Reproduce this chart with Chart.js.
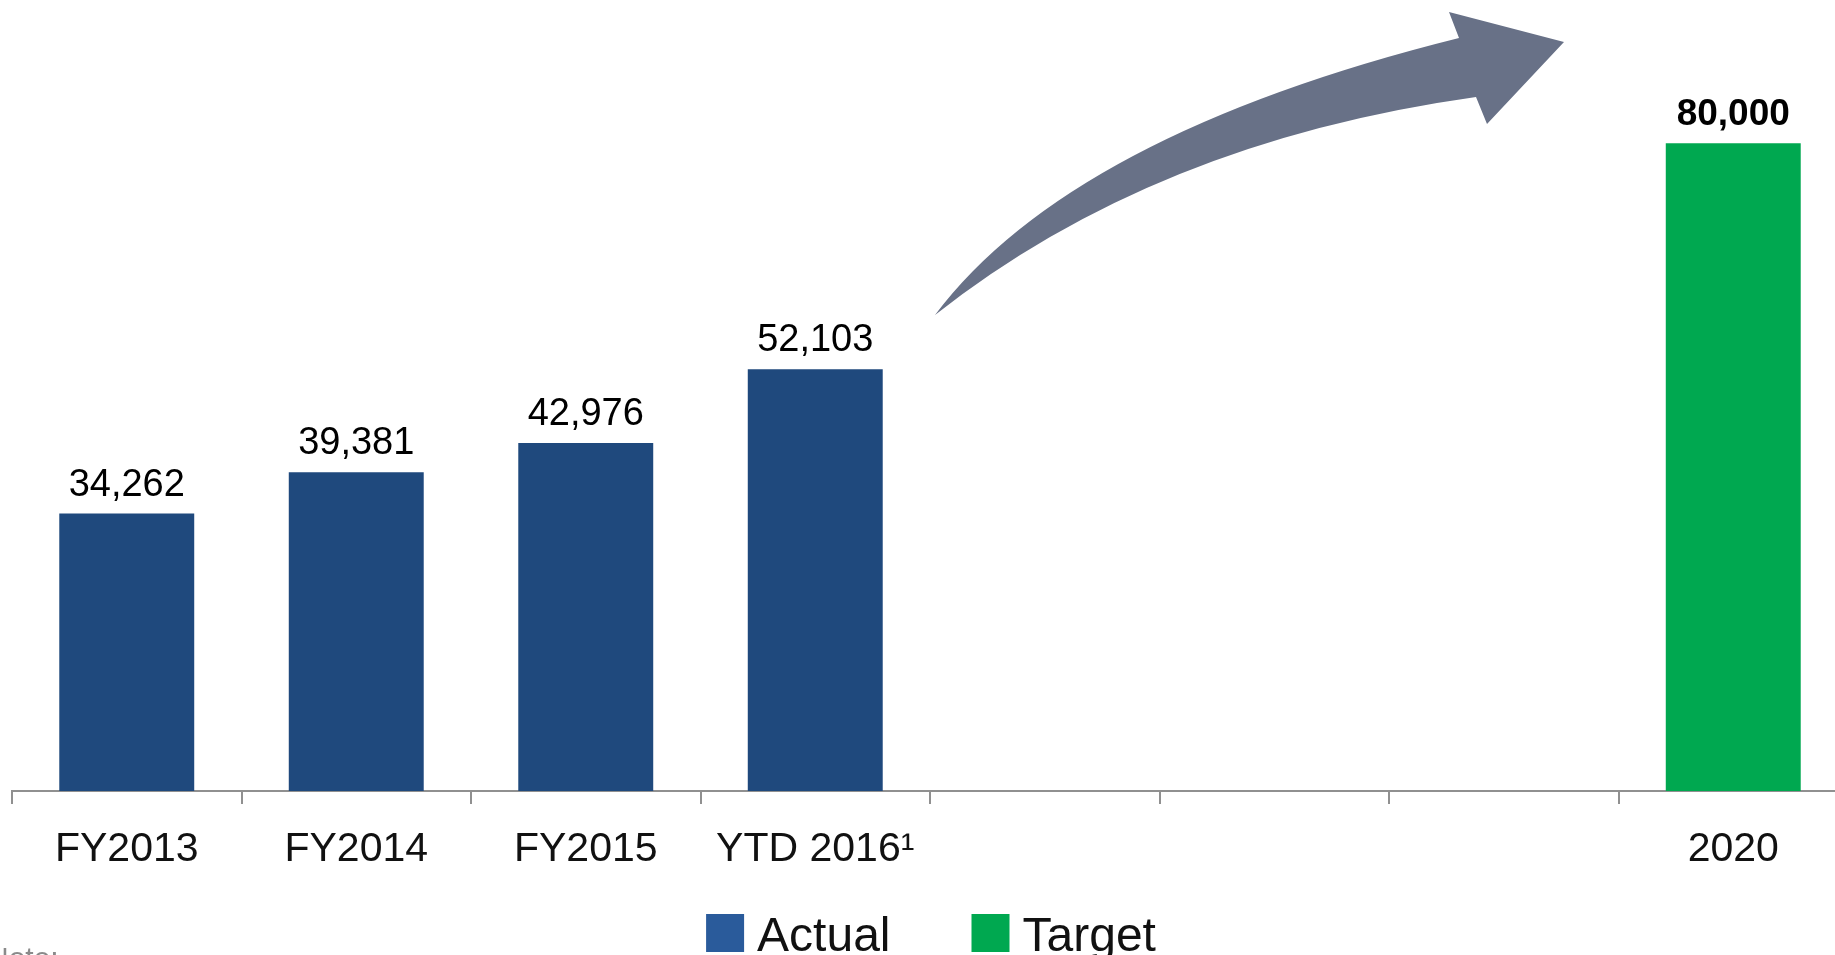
<!DOCTYPE html>
<html>
<head>
<meta charset="utf-8">
<script src="https://cdn.jsdelivr.net/npm/chart.js@4.4.1/dist/chart.umd.min.js"></script>
<style>
  html, body { margin: 0; padding: 0; background: #fff; overflow: hidden; }
  #wrap { position: absolute; left: 0; top: 0; width: 1860px; height: 955px; }
  #note { position: absolute; left: -13px; top: 941px; font: 30px 'Liberation Sans', sans-serif; color: #8a8a8a; }
</style>
</head>
<body>
<div id="wrap"><canvas id="bar-chart"></canvas></div>
<div id="note">Note:</div>
<script>
// categories on the x axis (empty slots are the gap before the 2020 target)
const categories = ["FY2013", "FY2014", "FY2015", "YTD 2016\u00b9", "", "", "", "2020"];
const actualValues = [34262, 39381, 42976, 52103, null, null, null, null];
const targetValues = [null, null, null, null, null, null, null, 80000];
const seriesNames = ["Actual", "Target"];

const barColors = ["#1F497D", "#00A850"];
const legendColors = ["#2A5B9B", "#00A850"];
const sans = "'Liberation Sans', Arial, sans-serif";

// value labels above each bar
const valueLabels = {
  id: "valueLabels",
  afterDatasetsDraw(chart) {
    const ctx = chart.ctx;
    chart.data.datasets.forEach((ds, di) => {
      const meta = chart.getDatasetMeta(di);
      meta.data.forEach((bar, i) => {
        const v = ds.data[i];
        if (v == null) return;
        ctx.save();
        ctx.font = di === 1 ? "bold 37px " + sans : "38px " + sans;
        ctx.fillStyle = "#000";
        ctx.textAlign = "center";
        ctx.textBaseline = "alphabetic";
        ctx.fillText(v.toLocaleString("en-US"), bar.x, bar.y - 18);
        ctx.restore();
      });
    });
  }
};

// legend row under the axis
const legendRow = {
  id: "legendRow",
  afterDraw(chart) {
    const ctx = chart.ctx;
    const box = 38, textGap = 13, itemGap = 81, top = 914;
    ctx.save();
    ctx.font = "48px " + sans;
    const widths = seriesNames.map(t => ctx.measureText(t).width);
    let total = 0;
    widths.forEach((w, i) => { total += box + textGap + w + (i ? 0 : itemGap); });
    let x = 931 - total / 2;
    seriesNames.forEach((t, i) => {
      ctx.fillStyle = legendColors[i];
      ctx.fillRect(x, top, box, box);
      ctx.fillStyle = "#111";
      ctx.textBaseline = "alphabetic";
      ctx.fillText(t, x + box + textGap, top + box - 1);
      x += box + textGap + widths[i] + itemGap;
    });
    ctx.restore();
  }
};

// the big curved growth arrow
const growthArrow = {
  id: "growthArrow",
  afterDraw(chart) {
    const ctx = chart.ctx;
    ctx.save();
    ctx.fillStyle = "#687187";
    ctx.beginPath();
    ctx.moveTo(935, 315);
    ctx.quadraticCurveTo(1070, 135, 1459, 38);
    ctx.lineTo(1449, 12);
    ctx.lineTo(1564, 42);
    ctx.lineTo(1487, 124);
    ctx.lineTo(1476, 97);
    ctx.quadraticCurveTo(1154, 142, 935, 315);
    ctx.closePath();
    ctx.fill();
    ctx.restore();
  }
};

new Chart("bar-chart", {
  type: "bar",
  data: {
    labels: categories,
    datasets: [
      { label: seriesNames[0], data: actualValues, backgroundColor: barColors[0] },
      { label: seriesNames[1], data: targetValues, backgroundColor: barColors[1] }
    ]
  },
  options: {
    responsive: true,
    maintainAspectRatio: false,
    animation: false,
    datasets: { bar: { categoryPercentage: 1, barPercentage: 0.588 } },
    layout: { padding: { left: 12, right: 12, top: 0, bottom: 74 } },
    scales: {
      x: {
        stacked: true,
        afterFit(scale) { scale.height = 90; },
        grid: { display: true, drawOnChartArea: false, drawTicks: true, tickLength: 13, color: "#909090", lineWidth: 2, offset: true },
        border: { display: true, color: "#909090", width: 2 },
        ticks: { color: "#111", padding: 21, font: { family: sans, size: 41 }, maxRotation: 0, autoSkip: false }
      },
      y: { stacked: true, display: false, min: 0, max: 97700 }
    },
    plugins: {
      tooltip: { enabled: false },
      legend: { display: false }
    }
  },
  plugins: [valueLabels, legendRow, growthArrow]
});
</script>
</body>
</html>
